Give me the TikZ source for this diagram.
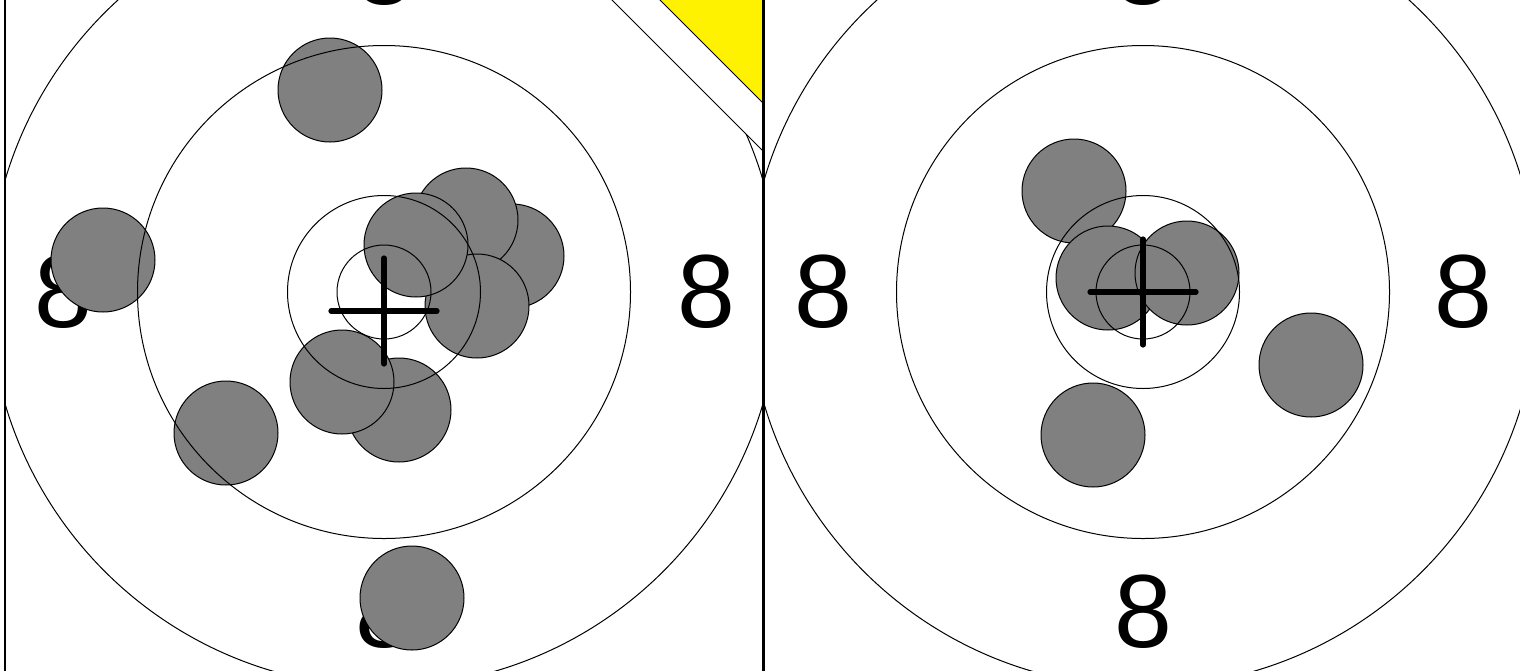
\documentclass[tikz,border=0pt]{standalone}
\usepackage{fontspec}
\setmainfont{Liberation Sans}
\begin{document}
\begin{tikzpicture}[x=0.5pt,y=-0.5pt,
  ring/.style={draw=black,line width=0.5pt},
  hit/.style={fill=gray,draw=black,line width=0.5pt},
  aimline/.style={line width=2.6pt,line cap=round},
  score/.style={font=\fontsize{52}{52}\selectfont,inner sep=0pt}]
  \useasboundingbox (0,0) rectangle (1520,670);
  \clip (0,0) rectangle (1520,670);
  \begin{scope}
    \clip (5,-87) rectangle (763,672);
    \node[score] (ltop) at (384,-31) {8};
    \node[score] (lleft) at (63,292) {8};
    \node[score] (lright) at (706,292) {8};
    \node[score] (lbottom) at (384,612) {8};
    \draw[hit] (330,90) circle (52);
    \draw[hit] (103,260) circle (52);
    \draw[hit] (512,256) circle (52);
    \draw[hit] (466,220) circle (52);
    \draw[hit] (477,306) circle (52);
    \draw[hit] (416,245) circle (52);
    \draw[hit] (399,410) circle (52);
    \draw[hit] (342,382) circle (52);
    \draw[hit] (226,433) circle (52);
    \draw[hit] (412,598) circle (52);
    \draw[ring] (384,292) circle (47);
    \draw[ring] (384,292) circle (96.5);
    \draw[ring] (384,292) circle (246.5);
    \draw[ring] (384,292) circle (395);
    \draw[aimline] (384,258) -- (384,364);
    \draw[aimline] (331,311) -- (437,311);
    \filldraw[fill=white,line width=0.5pt] (525,-87) -- (763,151) -- (763,-87) -- cycle;
    \filldraw[fill=yellow,line width=0.5pt] (573,-87) -- (763,103) -- (763,-87) -- cycle;
  \end{scope}
  \begin{scope}
    \clip (764,-87) rectangle (1522,672);
    \node[score] (rtop) at (1143,-31) {8};
    \node[score] (rleft) at (823,292) {8};
    \node[score] (rright) at (1463,292) {8};
    \node[score] (rbottom) at (1143,612) {8};
    \draw[hit] (1074,191) circle (52);
    \draw[hit] (1108,278) circle (52);
    \draw[hit] (1187,273) circle (52);
    \draw[hit] (1311,365) circle (52);
    \draw[hit] (1093,435) circle (52);
    \draw[ring] (1143,292) circle (47);
    \draw[ring] (1143,292) circle (96.5);
    \draw[ring] (1143,292) circle (246.5);
    \draw[ring] (1143,292) circle (395);
    \draw[aimline] (1143,239) -- (1143,345);
    \draw[aimline] (1090,292) -- (1196,292);
  \end{scope}
  \draw[line width=0.8pt] (5,-87) rectangle (763,672);
  \draw[line width=0.5pt] (764,-87) rectangle (1522,672);
\end{tikzpicture}
\end{document}
